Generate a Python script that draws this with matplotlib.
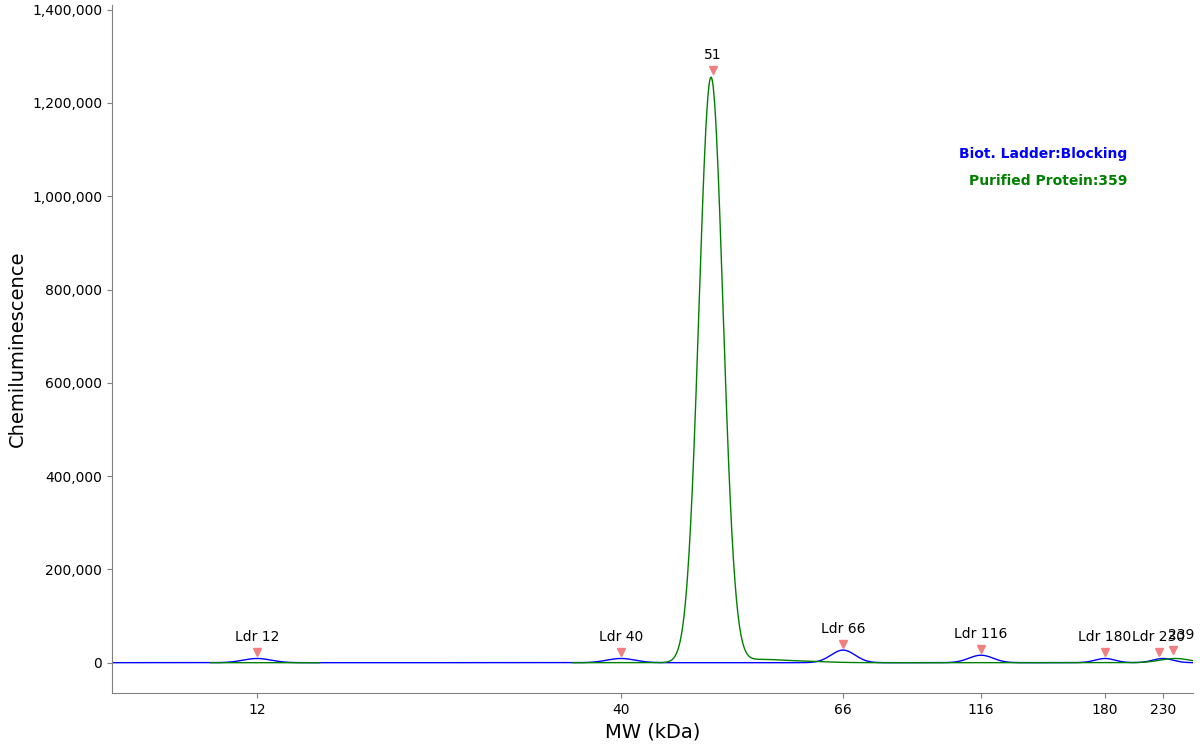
import numpy as np
import matplotlib
matplotlib.use("Agg")
import matplotlib.pyplot as plt

# x positions on a display scale (axis is non-linear in MW)
tick_pos = [257, 621, 843, 981, 1105, 1163]
tick_labels = ["12", "40", "66", "116", "180", "230"]

ladder_pos = [257, 621, 843, 981, 1105, 1163]
ladder_h = [9000, 9000, 27000, 16000, 9000, 9000]
ladder_w = [14, 14, 12, 12, 10, 10]
ladder_labels = ["Ldr 12", "Ldr 40", "Ldr 66", "Ldr 116", "Ldr 180", "Ldr 230"]

prot_pos = [711, 760, 800, 1175]
prot_h = [1255000, 6000, 3000, 9000]
prot_w = [12, 20, 25, 15]
prot_label_pos = [713, 1173]
prot_labels = ["51", "239"]

x = np.linspace(112, 1193, 2000)
def curve(pos, h, w):
    y = np.zeros_like(x)
    for p, a, s in zip(pos, h, w):
        y += a * np.exp(-0.5 * ((x - p) / s) ** 2)
    return y

blue = curve(ladder_pos, ladder_h, ladder_w)
green = curve(prot_pos, prot_h, prot_w)
gmask = ((x > 210) & (x < 320)) | ((x > 572) & (x < 1193))

fig = plt.figure(figsize=(12, 7.5), dpi=100)
ax = fig.add_axes([112/1200, 57/750, (1193-112)/1200, (693-5)/750])
ax.plot(x, blue, color="blue", lw=1)
gg = np.where(gmask, green, np.nan)
ax.plot(x, gg, color="green", lw=1)
ax.set_xlim(112, 1193)
ax.set_ylim(-65000, 1410000)
ax.set_xticks(tick_pos)
ax.set_xticklabels(tick_labels)
ax.set_yticks(np.arange(0, 1400001, 200000))
ax.yaxis.set_major_formatter(matplotlib.ticker.FuncFormatter(lambda v, p: f"{int(v):,}"))
for s in ["top", "right"]:
    ax.spines[s].set_visible(False)
for s in ["left", "bottom"]:
    ax.spines[s].set_color("gray")
ax.tick_params(colors="gray", labelcolor="black", labelsize=10)
ax.set_xlabel("MW (kDa)", fontsize=14)
ax.set_ylabel("Chemiluminescence", fontsize=14)

tri_color = "#f08080"
for p, h, lab in zip(ladder_pos, ladder_h, ladder_labels):
    xp = p - 4 if lab == "Ldr 230" else p
    ax.plot(xp, h + 14000, marker="v", color=tri_color, ms=6, ls="none")
    ax.text(xp, h + 30000, lab, ha="center", va="bottom", fontsize=10)
for p, lab, h in zip(prot_label_pos, prot_labels, [1255000, 12000]):
    ax.plot(p, h + 15000, marker="v", color=tri_color, ms=6, ls="none")
    ax.text(p + (8 if lab == "239" else 0), h + 32000, lab, ha="center", va="bottom", fontsize=10)

ax.text(1127, 1082000, "Biot. Ladder:Blocking", color="blue", ha="right",
        fontsize=10, fontweight="bold")
ax.text(1127, 1024000, "Purified Protein:359", color="green", ha="right",
        fontsize=10, fontweight="bold")
fig.savefig("out.png")
